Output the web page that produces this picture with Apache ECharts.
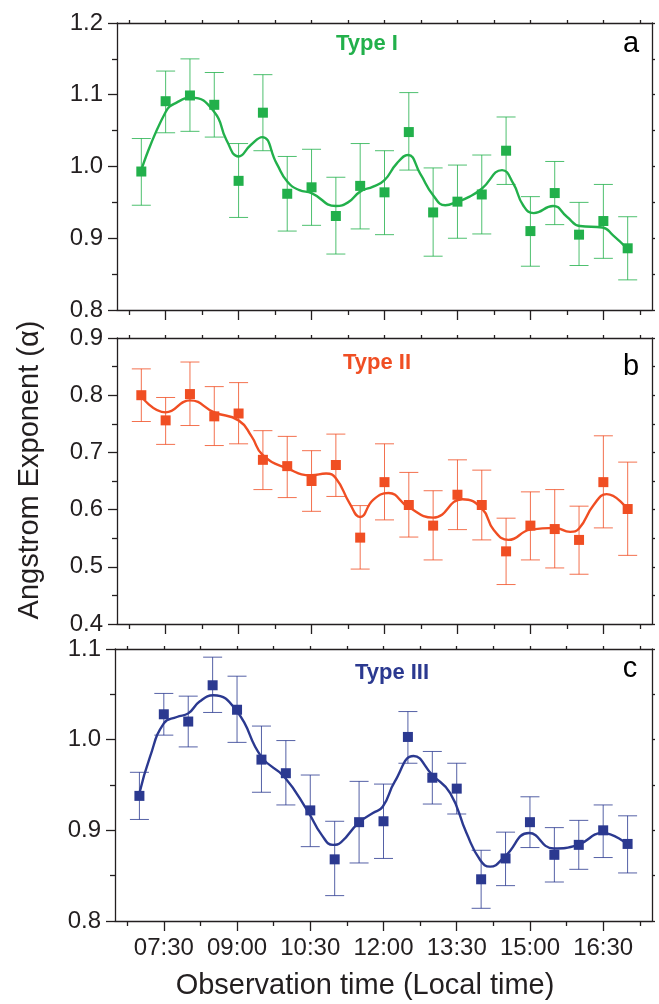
<!DOCTYPE html>
<html>
<head>
<meta charset="utf-8">
<script src="https://cdn.jsdelivr.net/npm/echarts@6/dist/echarts.min.js"></script>
<style>
html,body{margin:0;padding:0;background:#fff;}
#chart{width:659px;height:1004px;}
</style>
</head>
<body>
<div id="chart"></div>
<script>
// observation times in minutes after midnight (07:00 ... 17:00)
const timeMinutes = [420,450,480,510,540,570,600,630,660,690,720,750,780,810,840,870,900,930,960,990,1020];
const tickValues = [450,540,630,720,810,900,990];
const tickLabels = ['07:30','09:00','10:30','12:00','13:30','15:00','16:30'];
const minorTickValues = [405,495,585,675,765,855,945,1035];
const topTickValues = [405,450,495,540,585,630,675,720,765,810,855,900,945,990,1035];

// Type I
const typeI     = [0.993,1.091,1.099,1.086,0.980,1.075,0.962,0.971,0.931,0.973,0.964,1.048,0.936,0.951,0.961,1.022,0.910,0.963,0.905,0.924,0.886];
const typeIHigh = [1.039,1.133,1.150,1.131,1.032,1.128,1.014,1.024,0.985,1.032,1.022,1.103,0.998,1.002,1.016,1.069,0.958,1.007,0.950,0.975,0.930];
const typeILow  = [0.946,1.047,1.049,1.041,0.929,1.022,0.910,0.918,0.878,0.913,0.905,0.995,0.875,0.900,0.906,0.975,0.861,0.919,0.862,0.872,0.842];
const fitIX = [420,450,465,482,510,525,540,555,569,587,600,615,630,660,675,690,706,720,735,749,764,780,795,810,825,840,865,879,891,904,928,945,961,989,1002,1019];
const fitIY = [0.995,1.076,1.090,1.096,1.076,1.037,1.014,1.030,1.041,1.004,0.979,0.967,0.963,0.945,0.950,0.965,0.972,0.981,1.004,1.016,0.990,0.960,0.946,0.951,0.958,0.969,0.995,0.976,0.946,0.935,0.945,0.930,0.917,0.915,0.904,0.886];

// Type II
const typeII     = [0.800,0.756,0.802,0.763,0.768,0.687,0.676,0.650,0.678,0.551,0.648,0.608,0.572,0.626,0.608,0.527,0.572,0.566,0.547,0.648,0.601];
const typeIIHigh = [0.846,0.796,0.858,0.815,0.822,0.738,0.728,0.703,0.732,0.607,0.715,0.665,0.633,0.687,0.669,0.585,0.631,0.635,0.606,0.729,0.683];
const typeIILow  = [0.754,0.714,0.747,0.712,0.715,0.635,0.621,0.597,0.623,0.496,0.582,0.552,0.512,0.565,0.547,0.469,0.512,0.498,0.487,0.568,0.520];
const fitIIX = [420,450,480,510,540,556,570,600,630,648,660,677,690,706,725,749,780,816,840,855,873,900,930,949,960,978,994,1019];
const fitIIY = [0.798,0.770,0.791,0.770,0.756,0.728,0.695,0.672,0.660,0.663,0.655,0.611,0.587,0.617,0.629,0.605,0.586,0.618,0.602,0.564,0.547,0.565,0.568,0.561,0.567,0.608,0.627,0.602];

// Type III
const typeIII     = [0.938,1.028,1.020,1.060,1.033,0.978,0.963,0.922,0.868,0.909,0.910,1.003,0.958,0.946,0.846,0.869,0.909,0.873,0.884,0.900,0.885];
const typeIIIHigh = [0.964,1.051,1.048,1.091,1.070,1.015,0.999,0.961,0.910,0.954,0.951,1.031,0.987,0.974,0.878,0.898,0.937,0.903,0.911,0.928,0.916];
const typeIIILow  = [0.912,1.005,0.992,1.030,0.997,0.942,0.928,0.882,0.828,0.864,0.869,0.974,0.929,0.918,0.814,0.839,0.881,0.843,0.857,0.870,0.853];
const fitIIIX = [420,433,450,466,480,494,511,540,570,598,627,644,658,668,689,707,719,734,757,780,802,822,839,851,869,899,929,959,989,1019];
const fitIIIY = [0.941,0.981,1.018,1.025,1.029,1.042,1.049,1.031,0.981,0.959,0.921,0.895,0.884,0.887,0.908,0.919,0.926,0.954,0.982,0.961,0.941,0.897,0.867,0.860,0.871,0.897,0.880,0.884,0.897,0.885];

const panels = [
  {name:'Type I', letter:'a', color:'#22b04b', y:typeI, hi:typeIHigh, lo:typeILow, fx:fitIX, fy:fitIY, ymin:0.8, ymax:1.2,
   grid:{left:117, top:23, width:535, height:287}, title:[367,44], letterPos:[631,44]},
  {name:'Type II', letter:'b', color:'#f04e23', y:typeII, hi:typeIIHigh, lo:typeIILow, fx:fitIIX, fy:fitIIY, ymin:0.4, ymax:0.9,
   grid:{left:117, top:338, width:535, height:286}, title:[377,363], letterPos:[631,367]},
  {name:'Type III', letter:'c', color:'#2b3990', y:typeIII, hi:typeIIIHigh, lo:typeIIILow, fx:fitIIIX, fy:fitIIIY, ymin:0.8, ymax:1.1,
   grid:{left:115, top:649, width:537, height:272}, title:[392,673], letterPos:[630,669]}
];

const FONT = '"Liberation Sans", Arial, Helvetica, sans-serif';
const AXC = '#231f20';
const lineStyle = {color: AXC, width: 1.3};

const grids = [], xAxes = [], yAxes = [], series = [], graphics = [];
panels.forEach((p, i) => {
  grids.push(Object.assign({containLabel:false}, p.grid));
  const isLast = i === panels.length - 1;
  // main bottom x axis
  xAxes.push({
    type:'value', gridIndex:i, position:'bottom', min:390, max:1050,
    axisLine:{show:true, onZero:false, lineStyle},
    axisTick:{show:true, length:10, inside:false, customValues:tickValues, lineStyle},
    axisLabel:{show:isLast, customValues:tickValues, fontSize:24, color:AXC, fontFamily:FONT, margin:15,
      formatter:v => { const k = tickValues.indexOf(v); return k >= 0 ? tickLabels[k] : ''; }},
    splitLine:{show:false}
  });
  // minor bottom ticks
  xAxes.push({
    type:'value', gridIndex:i, position:'bottom', min:390, max:1050,
    axisLine:{show:false},
    axisTick:{show:true, length:5, inside:false, customValues:minorTickValues, lineStyle},
    axisLabel:{show:false}, splitLine:{show:false}
  });
  // top mirror axis
  xAxes.push({
    type:'value', gridIndex:i, position:'top', min:390, max:1050,
    axisLine:{show:true, onZero:false, lineStyle},
    axisTick:{show:true, length:3, inside:false, customValues:topTickValues, lineStyle},
    axisLabel:{show:false}, splitLine:{show:false}
  });
  yAxes.push({
    type:'value', gridIndex:i, position:'left', min:p.ymin, max:p.ymax, interval:0.1,
    axisLine:{show:true, onZero:false, lineStyle},
    axisTick:{show:true, length:9, inside:false, lineStyle},
    minorTick:{show:true, splitNumber:2, length:5, lineStyle},
    axisLabel:{show:true, fontSize:24, color:AXC, fontFamily:FONT, margin:14, formatter:v => v.toFixed(1)},
    splitLine:{show:false}, minorSplitLine:{show:false}
  });
  yAxes.push({
    type:'value', gridIndex:i, position:'right', min:p.ymin, max:p.ymax, interval:0.1,
    axisLine:{show:true, onZero:false, lineStyle},
    axisTick:{show:true, length:3, inside:false, lineStyle},
    minorTick:{show:true, splitNumber:2, length:3, lineStyle},
    axisLabel:{show:false}, splitLine:{show:false}, minorSplitLine:{show:false}
  });

  const col = p.color;
  series.push({
    type:'custom', xAxisIndex:3*i, yAxisIndex:2*i, z:2, silent:true,
    data: timeMinutes.map((t,k) => [t, p.lo[k], p.hi[k]]),
    encode:{x:0, y:[1,2]},
    renderItem:(params, api) => {
      const x = api.value(0);
      const a = api.coord([x, api.value(1)]);
      const b = api.coord([x, api.value(2)]);
      const hw = 9.5;
      const st = {stroke: col, lineWidth: 1, opacity: 0.8};
      return {type:'group', children:[
        {type:'line', shape:{x1:a[0], y1:a[1], x2:b[0], y2:b[1]}, style:st},
        {type:'line', shape:{x1:a[0]-hw, y1:a[1], x2:a[0]+hw, y2:a[1]}, style:st},
        {type:'line', shape:{x1:b[0]-hw, y1:b[1], x2:b[0]+hw, y2:b[1]}, style:st}
      ]};
    }
  });
  series.push({
    type:'line', xAxisIndex:3*i, yAxisIndex:2*i, z:3, silent:true,
    data: p.fx.map((x,k) => [x, p.fy[k]]),
    smooth:0.5, showSymbol:false, symbol:'none',
    lineStyle:{color:col, width:2.4}
  });
  series.push({
    type:'scatter', xAxisIndex:3*i, yAxisIndex:2*i, z:4, silent:true,
    data: timeMinutes.map((t,k) => [t, p.y[k]]),
    symbol:'rect', symbolSize:10, itemStyle:{color:col, opacity:1}
  });

  graphics.push({
    type:'text', x:p.title[0], y:p.title[1], z:10,
    style:{text:p.name, font:'bold 22px ' + FONT, fill:col, align:'center', verticalAlign:'middle', textAlign:'center', textVerticalAlign:'middle'}
  });
  graphics.push({
    type:'text', x:p.letterPos[0], y:p.letterPos[1], z:10,
    style:{text:p.letter, font:'29px ' + FONT, fill:'#000', align:'center', verticalAlign:'middle', textAlign:'center', textVerticalAlign:'middle'}
  });
});

graphics.push({
  type:'text', x:365, y:986, z:10,
  style:{text:'Observation time (Local time)', font:'29px ' + FONT, fill:AXC, align:'center', verticalAlign:'middle', textAlign:'center', textVerticalAlign:'middle'}
});
graphics.push({
  type:'text', x:30, y:470, z:10, rotation:Math.PI/2,
  style:{text:'Angstrom Exponent (α)', font:'29px ' + FONT, fill:AXC, align:'center', verticalAlign:'middle', textAlign:'center', textVerticalAlign:'middle'}
});

const chart = echarts.init(document.getElementById('chart'), null, {renderer:'canvas'});
chart.setOption({
  animation:false,
  backgroundColor:'#ffffff',
  grid:grids, xAxis:xAxes, yAxis:yAxes, series:series, graphic:graphics
});
</script>
</body>
</html>
